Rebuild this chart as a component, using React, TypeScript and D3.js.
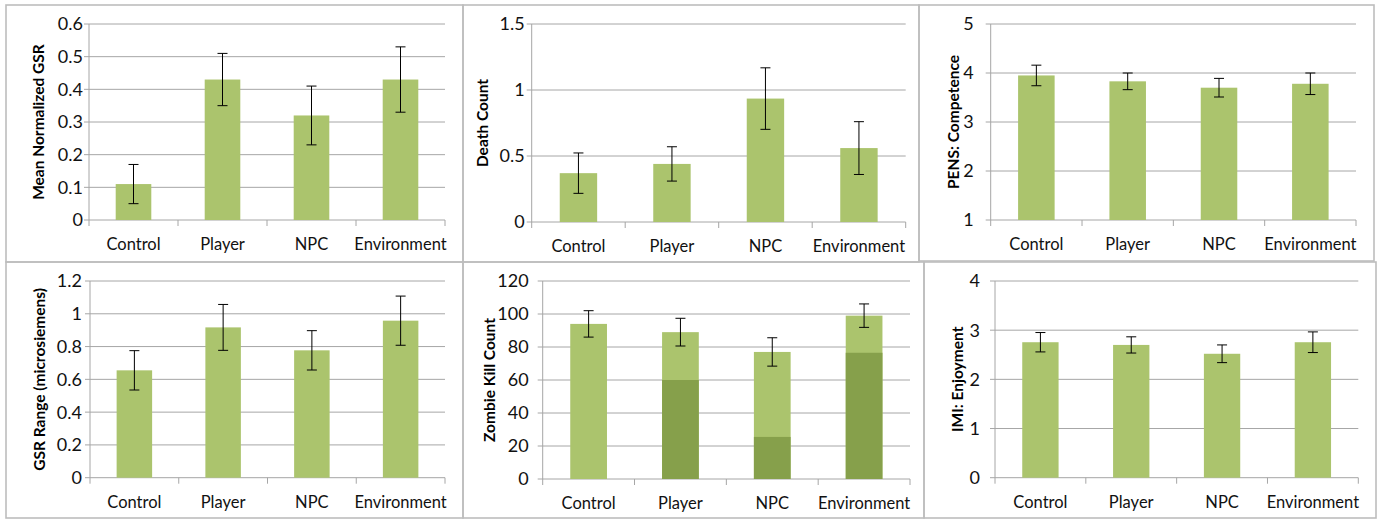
import React from "react";
import * as d3 from "d3";

const categories = ["Control", "Player", "NPC", "Environment"];

const gsrMean = [0.11, 0.43, 0.32, 0.43];
const gsrErr = [0.06, 0.08, 0.09, 0.1];
const gsrTicks = [0, 0.1, 0.2, 0.3, 0.4, 0.5, 0.6];

const deathMean = [0.37, 0.44, 0.935, 0.56];
const deathErr = [0.153, 0.13, 0.233, 0.2];
const deathTicks = [0, 0.5, 1, 1.5];

const competenceMean = [3.95, 3.83, 3.7, 3.78];
const competenceErr = [0.21, 0.17, 0.19, 0.22];
const competenceTicks = [1, 2, 3, 4, 5];

const gsrRangeMean = [0.655, 0.917, 0.777, 0.958];
const gsrRangeErr = [0.12, 0.14, 0.12, 0.15];
const gsrRangeTicks = [0, 0.2, 0.4, 0.6, 0.8, 1, 1.2];

const killTotal = [94, 89, 77, 99];
const killDark = [0, 60, 25.5, 76.5];
const killErr = [8, 8.4, 8.6, 7.1];
const killTicks = [0, 20, 40, 60, 80, 100, 120];

const enjoyMean = [2.755, 2.7, 2.52, 2.755];
const enjoyErr = [0.197, 0.165, 0.18, 0.21];
const enjoyTicks = [0, 1, 2, 3, 4];

const LIGHT = "#abc46d";
const DARK = "#86a04b";
const GRID = "#a6a6a6";
const FRAME = "#bdbdbd";
const FONT = "Lato, 'Open Sans', sans-serif";

type Panel = {
  title: string;
  mean: number[];
  err: number[];
  dark?: number[];
  ticks: number[];
  frame: [number, number, number, number];
  plot: [number, number, number, number];
  titleX: number;
  gap: number;
};

const panels: Panel[] = [
  { title: "Mean Normalized GSR", mean: gsrMean, err: gsrErr, ticks: gsrTicks, frame: [6, 5, 463, 262], plot: [89, 24, 445, 220], titleX: 39, gap: 6 },
  { title: "Death Count", mean: deathMean, err: deathErr, ticks: deathTicks, frame: [463, 5, 919, 262], plot: [531.7, 24, 905.7, 222], titleX: 482.7, gap: 7 },
  { title: "PENS: Competence", mean: competenceMean, err: competenceErr, ticks: competenceTicks, frame: [919, 5, 1374, 261], plot: [990.7, 24, 1356, 220], titleX: 953.3, gap: 17 },
  { title: "GSR Range (microsiemens)", mean: gsrRangeMean, err: gsrRangeErr, ticks: gsrRangeTicks, frame: [6, 262, 463, 518], plot: [90, 281, 445, 477.7], titleX: 39.3, gap: 8 },
  { title: "Zombie Kill Count", mean: killTotal, err: killErr, dark: killDark, ticks: killTicks, frame: [463, 262, 924, 518], plot: [542.7, 281, 910, 479], titleX: 489.3, gap: 14 },
  { title: "IMI: Enjoyment", mean: enjoyMean, err: enjoyErr, ticks: enjoyTicks, frame: [924, 262, 1376, 518], plot: [995, 281, 1358.3, 477.7], titleX: 957.7, gap: 15 },
];

function ChartPanel({ p }: { p: Panel }) {
  const [l, t, r, b] = p.plot;
  const y = d3.scaleLinear().domain([p.ticks[0], p.ticks[p.ticks.length - 1]]).range([b, t]);
  const x = d3.scaleBand<string>().domain(categories).range([l, r]).padding(0);
  const bw = x.bandwidth() * 0.4;
  const fmt = (v: number) => String(v);
  return (
    <g>
      <rect x={p.frame[0]} y={p.frame[1]} width={p.frame[2] - p.frame[0]} height={p.frame[3] - p.frame[1]} fill="none" stroke={FRAME} strokeWidth={1.6} />
      {p.ticks.map((v) => (
        <g key={v}>
          <line x1={l - 5} x2={r} y1={y(v)} y2={y(v)} stroke={GRID} strokeWidth={1} />
          <text x={l - p.gap} y={y(v)} dy="0.36em" textAnchor="end" fontSize={18} fontFamily={FONT} fill="#111">{fmt(v)}</text>
        </g>
      ))}
      <line x1={l} x2={l} y1={t} y2={b} stroke={GRID} strokeWidth={1} />
      {[...categories.map((c) => x(c) as number), r].map((xx, i) => (
        <line key={i} x1={xx} x2={xx} y1={b} y2={b + 6} stroke={GRID} strokeWidth={1} />
      ))}
      {categories.map((c, i) => {
        const cx = (x(c) as number) + x.bandwidth() / 2;
        const m = p.mean[i];
        const d = p.dark ? p.dark[i] : 0;
        return (
          <g key={c}>
            <rect x={cx - bw / 2} y={y(m)} width={bw} height={y(p.ticks[0]) - y(m)} fill={LIGHT} />
            {d > 0 && <rect x={cx - bw / 2} y={y(d)} width={bw} height={y(p.ticks[0]) - y(d)} fill={DARK} />}
            <line x1={cx} x2={cx} y1={y(m + p.err[i])} y2={y(m - p.err[i])} stroke="#000" strokeWidth={1} />
            <line x1={cx - 5} x2={cx + 5} y1={y(m + p.err[i])} y2={y(m + p.err[i])} stroke="#000" strokeWidth={1} />
            <line x1={cx - 5} x2={cx + 5} y1={y(m - p.err[i])} y2={y(m - p.err[i])} stroke="#000" strokeWidth={1} />
            <text x={cx} y={b + 30} textAnchor="middle" fontSize={16.5} fontFamily={FONT} fill="#111">{c}</text>
          </g>
        );
      })}
      <text transform={`translate(${p.titleX},${(t + b) / 2}) rotate(-90)`} textAnchor="middle" dy="0.35em" fontSize={15.5} fontWeight="bold" fontFamily={FONT} fill="#000">{p.title}</text>
    </g>
  );
}

export default function App() {
  return (
    <svg width={1385} height={519} style={{ position: "absolute", left: 0, top: 0, background: "#fff" }}>
      <rect x={0} y={0} width={1385} height={519} fill="#fff" />
      {panels.map((p) => (
        <ChartPanel key={p.title} p={p} />
      ))}
    </svg>
  );
}
